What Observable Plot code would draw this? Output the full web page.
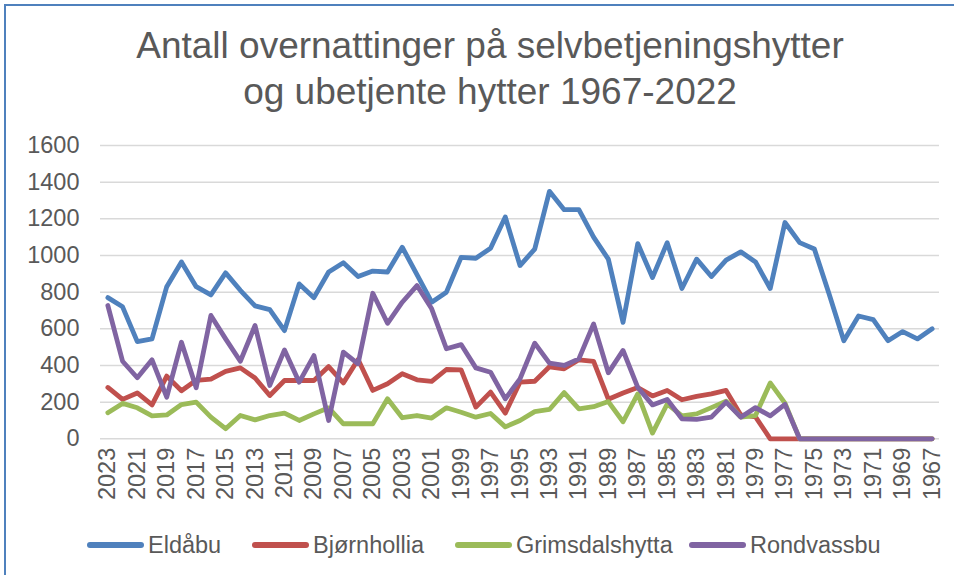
<!DOCTYPE html>
<html><head><meta charset="utf-8">
<script src="https://cdn.jsdelivr.net/npm/d3@7"></script>
<script src="https://cdn.jsdelivr.net/npm/@observablehq/plot@0.6"></script>
<style>
html,body{margin:0;padding:0;background:#fff;width:954px;height:575px;overflow:hidden;}
body{position:relative;font-family:"Liberation Sans",Arial,sans-serif;}
#frame{position:absolute;left:4px;top:4px;width:1200px;height:1200px;border:2px solid #4f81bd;box-sizing:border-box;}
#title{position:absolute;left:0;top:23px;width:980px;text-align:center;font-size:37px;line-height:46px;color:#595959;}
#chart{position:absolute;left:0;top:0;}
.leg{position:absolute;top:530px;height:30px;display:flex;align-items:center;font-size:23.5px;color:#595959;white-space:nowrap;}
.sw{width:57px;height:5.3px;border-radius:3px;margin-right:4px;}
</style></head>
<body>
<div id="frame"></div>
<div id="title">Antall overnattinger på selvbetjeningshytter<br>og ubetjente hytter 1967-2022</div>
<div id="chart"></div>
<div id="legend"></div>
<script>
const years = [2023,2022,2021,2020,2019,2018,2017,2016,2015,2014,2013,2012,2011,2010,2009,2008,2007,2006,2005,2004,
  2003,2002,2001,2000,1999,1998,1997,1996,1995,1994,1993,1992,1991,1990,1989,1988,1987,1986,1985,1984,
  1983,1982,1981,1980,1979,1978,1977,1976,1975,1974,1973,1972,1971,1970,1969,1968,1967];
const xTickLabels = [2023,2021,2019,2017,2015,2013,2011,2009,2007,2005,2003,2001,1999,1997,1995,1993,1991,1989,1987,1985,1983,1981,1979,1977,1975,1973,1971,1969,1967];
const yTickLabels = [0,200,400,600,800,1000,1200,1400,1600];
const seriesNames = ["Eldåbu","Bjørnhollia","Grimsdalshytta","Rondvassbu"];
const seriesColors = ["#4f81bd","#c0504d","#9bbb59","#8064a2"];

const eldabu = [770,720,530,545,830,965,830,785,905,810,725,705,590,845,770,910,960,885,915,910,
  1045,895,745,800,990,985,1040,1210,945,1035,1350,1250,1250,1100,980,635,1065,880,1070,820,
  980,885,975,1020,965,820,1180,1070,1035,790,535,670,650,535,585,545,600];
const bjornhollia = [280,215,250,185,342,262,319,325,368,387,332,236,318,318,318,394,305,433,264,300,
  355,322,313,378,376,173,255,140,309,314,393,382,431,422,216,250,280,234,264,213,
  231,245,264,130,120,0,0,0,0,0,0,0,0,0,0,0,0];
const grimsdalshytta = [142,193,169,125,130,187,200,118,55,127,103,127,140,100,136,169,82,82,82,218,
  115,127,113,169,145,118,138,65,100,148,160,252,163,175,203,93,245,31,190,125,
  136,170,205,118,127,305,195,0,0,0,0,0,0,0,0,0,0];
const rondvassbu = [727,423,333,431,227,527,278,673,545,423,618,291,485,309,454,100,473,409,794,630,
  745,836,709,491,514,387,363,218,327,522,413,400,436,627,360,482,280,185,215,109,
  106,118,200,118,170,125,188,0,0,0,0,0,0,0,0,0,0];
const seriesValues = [eldabu, bjornhollia, grimsdalshytta, rondvassbu];

const rows = [];
seriesNames.forEach((s, k) => seriesValues[k].forEach((v, i) => rows.push({year: years[i], value: v, series: s})));

const font = "'Liberation Sans', Arial, sans-serif";
const chart = Plot.plot({
  width: 954, height: 520,
  marginLeft: 100, marginRight: 15, marginTop: 145, marginBottom: 81.7,
  x: {type: "point", domain: years, padding: 0.5},
  y: {domain: [0, 1600]},
  color: {domain: seriesNames, range: seriesColors},
  style: {fontFamily: font, fontSize: "23.5px", color: "#595959", background: "transparent", overflow: "visible"},
  marks: [
    Plot.ruleY(yTickLabels, {stroke: "#d9d9d9", strokeWidth: 1.5, strokeOpacity: 1}),
    Plot.axisY({ticks: yTickLabels, tickSize: 0, tickPadding: 21, label: null, fontSize: 23.5, tickFormat: d => String(d)}),
    Plot.axisX({ticks: xTickLabels, tickSize: 0, tickPadding: 9, tickRotate: -90, label: null, fontSize: 23.5, tickFormat: d => String(d)}),
    Plot.line(rows, {x: "year", y: "value", z: "series", stroke: "series", strokeWidth: 4.8, strokeLinejoin: "round", strokeLinecap: "round"})
  ]
});
document.getElementById("chart").appendChild(chart);

const legendX = [87, 252, 455, 689];
const legend = document.getElementById("legend");
seriesNames.forEach((s, k) => {
  const item = document.createElement("div");
  item.className = "leg";
  item.style.left = legendX[k] + "px";
  const sw = document.createElement("div");
  sw.className = "sw";
  sw.style.background = seriesColors[k];
  const t = document.createElement("span");
  t.textContent = s;
  item.appendChild(sw); item.appendChild(t);
  legend.appendChild(item);
});
</script>
</body></html>
